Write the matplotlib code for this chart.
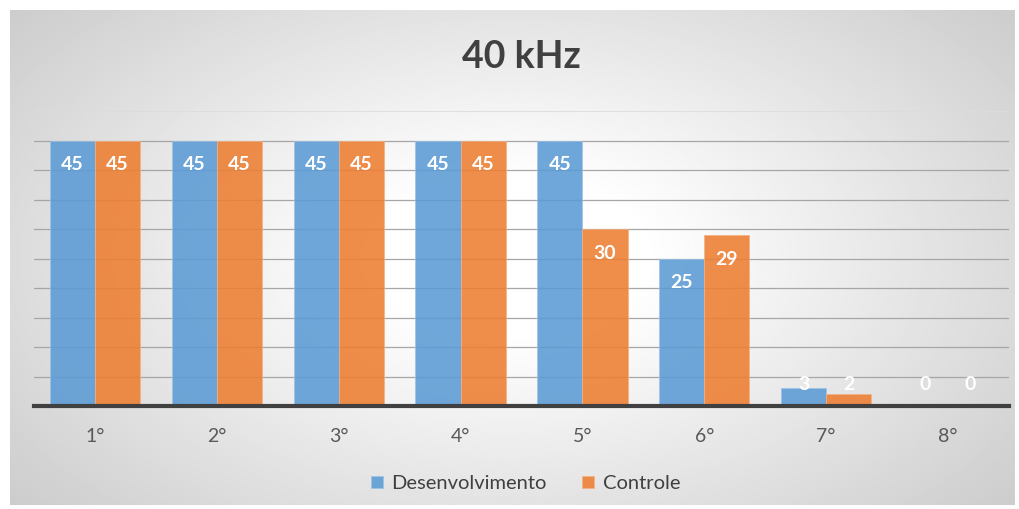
import numpy as np
from matplotlib import pyplot as plt

categories = ["1°", "2°", "3°", "4°", "5°", "6°", "7°", "8°"]
desenvolvimento = [45, 45, 45, 45, 45, 25, 3, 0]
controle = [45, 45, 45, 45, 30, 29, 2, 0]

plt.rcParams['font.family'] = ['Lato', 'DejaVu Sans']

fig = plt.figure(figsize=(10.2, 5.09), dpi=100)

# radial gradient background (chart area look)
bg = fig.add_axes([0.01, 0.008, 0.985, 0.972])
yy, xx = np.mgrid[-1:1:300j, -1:1:600j]
r = np.sqrt((xx * 0.95) ** 2 + (yy * 0.8) ** 2)
shade = 1.0 - 0.2 * np.clip(r - 0.25, 0, None) / 1.0
bg.imshow(shade, cmap='gray', vmin=0, vmax=1, aspect='auto', extent=[0, 1, 0, 1])
bg.set_axis_off()

ax = fig.add_axes([34 / 1020, 103 / 509, 975 / 1020, 295 / 509])
ax.set_facecolor('none')

x = np.arange(len(categories))
w = 0.37
ax.bar(x - w / 2, desenvolvimento, w, color='#5B9BD5', alpha=0.88,
       edgecolor='#9cc3e6', linewidth=0.6, zorder=2, label='Desenvolvimento')
ax.bar(x + w / 2, controle, w, color='#ED7D31', alpha=0.88,
       edgecolor='#f4b183', linewidth=0.6, zorder=2, label='Controle')

for xs, vals in ((x - w / 2, desenvolvimento), (x + w / 2, controle)):
    for xi, v in zip(xs, vals):
        ax.text(xi, max(v - 4.1, 3.6), str(v), ha='center', va='center',
                color='white', fontsize=14, fontweight='bold', zorder=3)

ax.set_xlim(-0.5, len(categories) - 0.5)
ax.set_ylim(0, 50)
ax.set_yticks(np.arange(5, 46, 5))
ax.yaxis.grid(True, color='#a6a6a6', linewidth=0.9, zorder=0)
ax.axhline(50, color='#dcdcdc', linewidth=1.2, zorder=0)
ax.set_axisbelow(True)
ax.tick_params(axis='y', left=False, labelleft=False)
ax.tick_params(axis='x', bottom=False, pad=12, labelsize=14, labelcolor='#595959')
ax.set_xticks(x)
ax.set_xticklabels(categories)
for s in ('top', 'right', 'left'):
    ax.spines[s].set_visible(False)
ax.spines['bottom'].set_color('#404040')
ax.spines['bottom'].set_linewidth(3)
ax.spines['bottom'].set_zorder(4)

fig.text(0.511, 0.888, "40 kHz", ha='center', va='center', fontsize=27,
         fontweight='bold', color='#404040')

fig.legend(loc='center', bbox_to_anchor=(0.515, 0.05), ncol=2, frameon=False,
           fontsize=14.5, handlelength=0.6, handleheight=0.6, handletextpad=0.4,
           columnspacing=1.8, labelcolor='#404040')

fig.savefig('out.png')
